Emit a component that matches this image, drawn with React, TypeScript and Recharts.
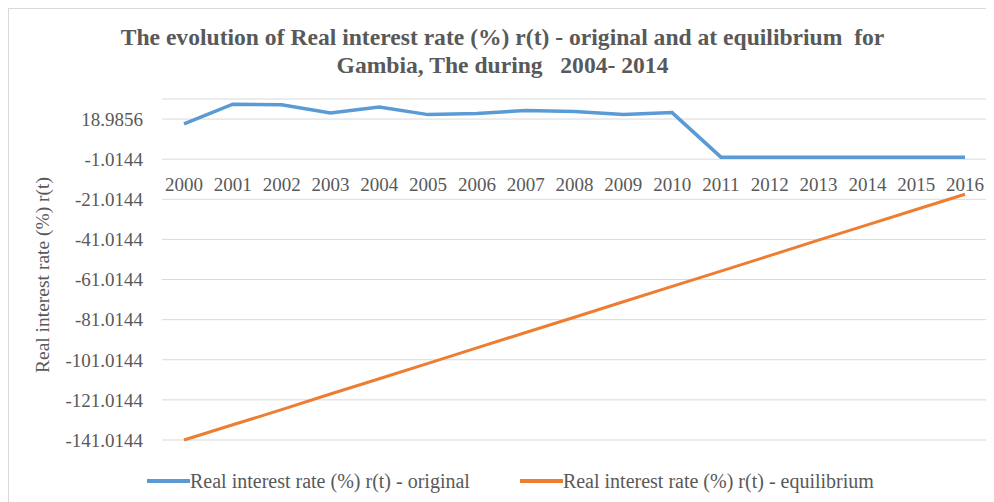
import React from 'react';
import { LineChart, Line, XAxis, YAxis, CartesianGrid } from 'recharts';

const years = ['2000', '2001', '2002', '2003', '2004', '2005', '2006', '2007', '2008', '2009', '2010', '2011', '2012', '2013', '2014', '2015', '2016'];
const original = [16.6, 26.4, 26.1, 22.0, 25.0, 21.2, 21.7, 23.3, 22.8, 21.2, 22.2, 0, 0, 0, 0, 0, 0];
const equilibrium = [-141.0, -133.4, -125.9, -118.1, -110.5, -102.8, -95.1, -87.4, -79.8, -72.1, -64.4, -56.8, -49.1, -41.4, -33.8, -26.1, -18.5];
const yTicks = [18.9856, -1.0144, -21.0144, -41.0144, -61.0144, -81.0144, -101.0144, -121.0144, -141.0144];
const seriesNames = ['Real interest rate (%) r(t) - original', 'Real interest rate (%) r(t) - equilibrium'];
const seriesColors = ['#5b9bd5', '#ed7d31'];

const data = years.map((year, i) => ({ year, original: original[i], equilibrium: equilibrium[i] }));

const W = 985;
const H = 493;
const margin = { top: 90, right: 7, bottom: 61, left: 0 };
const yMin = -141.0144;
const yMax = 28.9856;
const plotH = H - margin.top - margin.bottom;
const zeroY = margin.top + ((yMax - 0) / (yMax - yMin)) * plotH;

const font = '"Liberation Serif", "Times New Roman", serif';
const textColor = '#595959';

const renderYearTick = (props: any) => {
  const { x, payload } = props;
  return (
    <text x={x} y={zeroY + 34} textAnchor="middle" fontFamily={font} fontSize={19} fill={textColor}>
      {payload.value}
    </text>
  );
};

const YLabel = () => {
  const cx = 36;
  const cy = margin.top + plotH / 2 + 5;
  return (
    <text x={cx} y={cy} transform={`rotate(-90 ${cx} ${cy})`} textAnchor="middle" dominantBaseline="middle" fontFamily={font} fontSize={19.5} fill={textColor}>
      Real interest rate (%) r(t)
    </text>
  );
};

export default function App() {
  return (
    <div style={{ position: 'relative', width: W, height: H + 2, borderLeft: '1px solid #d9d9d9', borderTop: '1px solid #d9d9d9', background: '#fff', fontFamily: font }}>
      <div style={{ position: 'absolute', top: 14, left: 1, width: W, textAlign: 'center', fontWeight: 'bold', fontSize: 23.6, lineHeight: '28px', color: '#595959', whiteSpace: 'pre' }}>
        {'The evolution of Real interest rate (%) r(t) - original and at equilibrium  for\nGambia, The during   2004- 2014'}
      </div>
      <LineChart width={W} height={H} data={data} margin={margin}>
        <CartesianGrid vertical={false} stroke="#d9d9d9" />
        <XAxis dataKey="year" height={1} axisLine={false} tickLine={false} tick={renderYearTick} padding={{ left: 22, right: 22 }} interval={0} />
        <YAxis
          width={153}
          domain={[yMin, yMax]}
          ticks={yTicks}
          axisLine={false}
          tickLine={false}
          tickSize={0}
          tickMargin={19}
          tick={{ fontFamily: font, fontSize: 19, fill: textColor }}
          tickFormatter={(v: number) => String(v)}
          label={<YLabel />}
        />
        <Line dataKey="original" name={seriesNames[0]} stroke={seriesColors[0]} strokeWidth={3.5} dot={false} isAnimationActive={false} />
        <Line dataKey="equilibrium" name={seriesNames[1]} stroke={seriesColors[1]} strokeWidth={3} dot={false} isAnimationActive={false} />
      </LineChart>
      <div style={{ position: 'absolute', top: 459, left: 138, display: 'flex', alignItems: 'center', fontSize: 20, color: textColor }}>
        {seriesNames.map((n, i) => (
          <div key={n} style={{ display: 'flex', alignItems: 'center', marginRight: i === 0 ? 50 : 0 }}>
            <span style={{ display: 'inline-block', width: 43, height: 4, background: seriesColors[i] }} />
            <span style={{ lineHeight: '26px' }}>{n}</span>
          </div>
        ))}
      </div>
    </div>
  );
}
